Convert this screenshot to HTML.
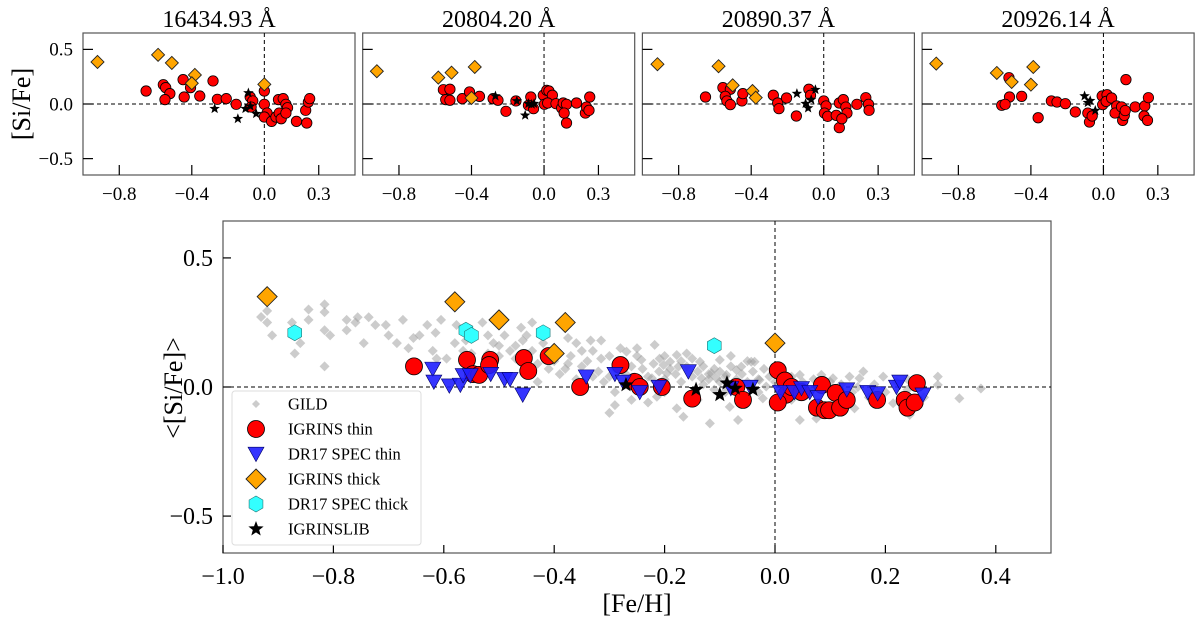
<!DOCTYPE html>
<html><head><meta charset="utf-8">
<style>
html,body{margin:0;padding:0;background:#fff;}
svg{display:block;font-family:"Liberation Serif",serif;}
</style></head>
<body>
<svg id="fig" width="1200" height="624" xmlns="http://www.w3.org/2000/svg"></svg>
<script>
// ---------- data: top panels ----------
const panelTitles = ["16434.93 Å","20804.20 Å","20890.37 Å","20926.14 Å"];
const topXTicks = [-0.8,-0.4,0.0,0.3];
const topYTicks = [0.5,0.0,-0.5];
const p1Thick = [[-0.92,0.385],[-0.586,0.45],[-0.51,0.376],[-0.383,0.266],[-0.40,0.19],[0.0,0.18]];
const p1Thin = [[-0.652,0.119],[-0.557,0.177],[-0.544,0.15],[-0.521,0.095],[-0.548,0.04],[-0.448,0.223],[-0.442,0.064],[-0.407,0.15],[-0.356,0.073],[-0.283,0.211],[-0.259,0.043],[-0.21,0.049],[-0.155,-0.003],[-0.078,0.064],[-0.064,0.028],[-0.073,-0.028],[0.0,0.119],[0.0,-0.003],[0.015,-0.083],[0.0,-0.119],[0.04,-0.159],[0.064,-0.119],[0.078,0.04],[0.082,-0.083],[0.093,-0.135],[0.104,0.049],[0.119,-0.003],[0.128,-0.034],[0.119,-0.083],[0.177,-0.159],[0.228,-0.058],[0.234,-0.174],[0.243,0.018],[0.25,0.049]];
const p1Lib = [[-0.274,-0.043],[-0.146,-0.135],[-0.104,-0.043],[-0.088,0.101],[-0.077,-0.02],[-0.045,-0.089]];
const p2Thick = [[-0.922,0.30],[-0.583,0.242],[-0.51,0.287],[-0.382,0.339],[-0.40,0.055]];
const p2Thin = [[-0.555,0.131],[-0.519,0.135],[-0.542,0.04],[-0.519,0.034],[-0.451,0.049],[-0.411,0.11],[-0.356,0.07],[-0.281,0.049],[-0.254,0.034],[-0.21,-0.067],[-0.155,0.028],[-0.073,0.064],[-0.086,-0.012],[-0.058,-0.043],[-0.004,0.08],[0.015,0.125],[0.027,0.119],[0.046,0.08],[0.002,-0.003],[0.02,0.009],[0.066,0.003],[0.097,-0.037],[0.106,0.009],[0.124,-0.003],[0.111,-0.083],[0.124,-0.174],[0.179,0.009],[0.228,-0.083],[0.234,-0.028],[0.248,-0.058],[0.252,0.064]];
const p2Lib = [[-0.268,0.073],[-0.15,0.028],[-0.104,-0.104],[-0.086,0.003],[-0.068,-0.003],[-0.055,0.003]];
const p3Thick = [[-0.917,0.364],[-0.58,0.346],[-0.502,0.171],[-0.393,0.119],[-0.375,0.058]];
const p3Thin = [[-0.652,0.064],[-0.556,0.15],[-0.515,0.135],[-0.543,0.07],[-0.534,0.028],[-0.515,-0.006],[-0.451,0.028],[-0.446,0.095],[-0.278,0.08],[-0.254,0.009],[-0.247,-0.043],[-0.205,0.055],[-0.151,-0.11],[-0.082,0.135],[-0.073,0.08],[0.0,0.028],[0.013,-0.018],[0.004,-0.083],[0.022,-0.113],[0.069,-0.104],[0.086,-0.217],[0.086,0.009],[0.108,0.04],[0.122,-0.028],[0.128,-0.083],[0.1,-0.135],[0.183,-0.003],[0.232,0.058],[0.247,-0.003],[0.25,-0.058]];
const p3Lib = [[-0.148,0.095],[-0.1,0.003],[-0.086,-0.037],[-0.069,0.04],[-0.046,0.131]];
const p4Thick = [[-0.922,0.37],[-0.588,0.284],[-0.506,0.202],[-0.387,0.339],[-0.40,0.177]];
const p4Thin = [[-0.521,0.241],[-0.518,0.064],[-0.451,0.07],[-0.561,-0.012],[-0.542,-0.003],[-0.36,-0.126],[-0.287,0.028],[-0.256,0.018],[-0.21,0.003],[-0.155,-0.073],[-0.086,-0.083],[-0.077,-0.165],[-0.062,-0.11],[-0.007,0.073],[-0.004,-0.006],[0.02,0.085],[0.015,0.024],[0.045,0.055],[0.073,-0.018],[0.064,-0.083],[0.10,-0.027],[0.106,-0.15],[0.115,-0.104],[0.12,-0.06],[0.124,0.223],[0.175,-0.027],[0.228,-0.018],[0.248,0.058],[0.224,-0.11],[0.243,-0.15]];
const p4Lib = [[-0.104,0.073],[-0.086,0.012],[-0.073,0.03],[-0.045,-0.06]];
const panelThick = [p1Thick,p2Thick,p3Thick,p4Thick];
const panelThin = [p1Thin,p2Thin,p3Thin,p4Thin];
const panelLib = [p1Lib,p2Lib,p3Lib,p4Lib];

// ---------- data: bottom panel ----------
const mainXTicks = [-1.0,-0.8,-0.6,-0.4,-0.2,0.0,0.2,0.4];
const mainYTicks = [0.5,0.0,-0.5];
const igrinsThick = [[-0.92,0.35],[-0.58,0.33],[-0.50,0.26],[-0.38,0.25],[-0.40,0.13],[0.0,0.17]];
const dr17Thick = [[-0.87,0.21],[-0.56,0.22],[-0.55,0.20],[-0.42,0.21],[-0.11,0.16]];
const igrinsThin = [[-0.654,0.08],[-0.558,0.105],[-0.547,0.05],[-0.536,0.047],[-0.516,0.105],[-0.518,0.085],[-0.455,0.112],[-0.447,0.062],[-0.41,0.12],[-0.353,0.0],[-0.28,0.085],[-0.254,0.02],[-0.245,0.0],[-0.205,0.0],[-0.15,-0.045],[-0.07,0.0],[-0.058,-0.05],[0.005,0.065],[0.018,0.025],[0.02,-0.03],[0.005,-0.06],[0.03,0.0],[0.048,-0.02],[0.076,-0.08],[0.085,0.008],[0.09,-0.09],[0.098,-0.09],[0.11,-0.023],[0.118,-0.08],[0.13,-0.05],[0.185,-0.05],[0.235,-0.05],[0.24,-0.08],[0.253,-0.06],[0.257,0.015]];
const dr17Thin = [[-0.62,0.07],[-0.618,0.02],[-0.59,0.005],[-0.57,0.008],[-0.565,0.045],[-0.552,0.045],[-0.515,0.05],[-0.49,0.03],[-0.48,0.03],[-0.457,-0.03],[-0.342,0.04],[-0.29,0.05],[-0.275,0.02],[-0.245,-0.02],[-0.21,0.0],[-0.157,0.06],[-0.08,-0.005],[-0.045,0.0],[0.01,-0.02],[0.035,-0.02],[0.048,-0.005],[0.063,-0.02],[0.078,-0.04],[0.13,-0.01],[0.168,-0.02],[0.186,-0.025],[0.22,0.0],[0.226,0.02],[0.268,-0.03]];
const igrinsLib = [[-0.27,0.008],[-0.143,-0.01],[-0.1,-0.03],[-0.087,0.015],[-0.072,-0.005],[-0.04,-0.01]];
const gild = [[-0.931,0.271],[-0.92,0.295],[-0.92,0.25],[-0.911,0.2],[-0.87,0.13],[-0.86,0.17],[-0.875,0.25],[-0.845,0.30],[-0.845,0.26],[-0.816,0.32],[-0.816,0.29],[-0.816,0.22],[-0.806,0.2],[-0.816,0.08],[-0.776,0.26],[-0.776,0.22],[-0.756,0.27],[-0.745,0.17],[-0.736,0.27],[-0.724,0.24],[-0.705,0.24],[-0.674,0.26],[-0.685,0.17],[-0.664,0.15],[-0.655,0.19],[-0.644,0.2],[-0.615,0.21],[-0.605,0.26],[-0.595,0.11],[-0.613,0.11],[-0.577,0.24],[-0.565,0.14],[-0.56,0.18],[-0.53,0.25],[-0.51,0.17],[-0.50,0.16],[-0.49,0.2],[-0.48,0.14],[-0.46,0.23],[-0.44,0.25],[-0.457,0.18],[-0.47,0.11],[-0.44,0.14],[-0.43,0.02],[-0.41,0.07],[-0.38,0.07],[-0.375,0.19],[-0.36,0.17],[-0.334,0.18],[-0.315,0.18],[-0.315,0.11],[-0.375,0.09],[-0.35,0.08],[-0.33,0.04],[-0.29,0.07],[-0.3,-0.1],[-0.29,-0.07],[-0.29,-0.02],
[-0.218,0.163],[-0.269,0.137],[-0.242,0.105],[-0.209,0.11],[-0.202,0.085],[-0.19,0.098],[-0.178,0.124],[-0.175,0.079],[-0.196,0.053],[-0.223,0.034],[-0.214,-0.038],[-0.178,-0.083],[-0.166,-0.115],[-0.136,0.098],[-0.133,0.034],[-0.115,0.053],[-0.106,0.034],[-0.1,0.105],[-0.088,0.047],[-0.118,-0.141],[-0.067,-0.128],[-0.07,0.066],[-0.061,0.079],[-0.043,0.098],[-0.037,0.098],[-0.028,0.027],[-0.022,-0.044],[-0.016,0.002],[-0.082,-0.077],[-0.052,-0.063],[0.045,-0.128],[0.045,0.047],[0.075,-0.122],[0.084,0.047],[0.105,0.034],[0.135,0.04],[0.144,-0.083],[0.153,0.034],[0.196,0.04],[0.214,-0.063],[0.244,-0.108],[0.295,0.04],[0.295,0.008],[0.334,-0.044],[0.373,-0.006],
[-0.40,0.10],[-0.39,0.05],[-0.37,0.12],[-0.36,0.03],[-0.34,0.10],[-0.33,0.14],[-0.32,0.06],[-0.31,0.02],[-0.30,0.12],[-0.30,0.04],[-0.28,0.10],[-0.27,0.05],[-0.26,0.08],[-0.26,0.01],[-0.25,0.12],[-0.24,0.07],[-0.23,0.04],[-0.22,0.09],[-0.21,0.06],[-0.20,0.03],[-0.20,0.12],[-0.19,0.07],[-0.18,0.05],[-0.17,0.02],[-0.17,0.10],[-0.16,0.08],[-0.15,0.04],[-0.15,0.11],[-0.14,0.06],[-0.13,0.01],[-0.13,0.08],[-0.12,0.05],[-0.12,0.03],[-0.11,0.07],[-0.10,0.02],[-0.10,0.06],[-0.09,0.04],[-0.09,-0.02],[-0.08,0.08],[-0.07,0.03],[-0.06,0.05],[-0.06,-0.03],[-0.05,0.02],[-0.04,0.06],[-0.03,0.03],[-0.02,0.07],[-0.01,0.04],[0.0,0.02],[0.01,0.05],[0.02,0.01],[0.03,0.04],[0.05,0.02],[0.06,-0.01],[0.07,0.03],[0.09,0.0],[0.10,0.02],[0.11,-0.03],[0.12,0.01],[0.14,-0.02],[0.15,0.0],[0.17,-0.04],[0.18,0.01],[0.20,-0.02],[0.22,0.02],[0.24,-0.01],[0.26,0.0],[0.27,-0.04],
[-0.62,0.14],[-0.58,0.17],[-0.55,0.13],[-0.52,0.2],[-0.50,0.12],[-0.47,0.16],[-0.45,0.2],[-0.43,0.09],[-0.42,0.17],[-0.35,0.14],[-0.28,0.15],[-0.25,0.15],[-0.23,-0.06],[-0.16,0.13],[-0.14,-0.05],[-0.08,0.12],[-0.05,0.10],[-0.03,-0.02],[0.03,-0.05],[0.08,-0.06],[0.16,0.06],[0.24,0.03],[-0.70,0.2],[-0.76,0.25],[-0.63,0.24],[-0.52,0.13],[-0.20,-0.02],[-0.11,-0.01],[-0.26,-0.05]];
const legendLabels = ["GILD","IGRINS thin","DR17 SPEC thin","IGRINS thick","DR17 SPEC thick","IGRINSLIB"];

// ---------- drawing ----------
const svg = document.getElementById('fig');
const NS = 'http://www.w3.org/2000/svg';
function el(tag, attrs, parent){
  const e = document.createElementNS(NS, tag);
  for (const k in attrs) e.setAttribute(k, attrs[k]);
  (parent||svg).appendChild(e);
  return e;
}
function fmt(v, d){ const s = Math.abs(v).toFixed(d); return (v < -1e-9 ? '\u2212' : '') + s; }

function marker(g, kind, x, y, s){
  let e;
  if (kind === 'circle') {
    e = el('circle',{cx:x,cy:y,r:s,fill:'#ff0000',stroke:'#000','stroke-width':0.8},g);
  } else if (kind === 'tri') {
    e = el('polygon',{points:`${x-s},${y-s*0.85} ${x+s},${y-s*0.85} ${x},${y+s*0.95}`,fill:'#1f1fff','fill-opacity':0.9,stroke:'#000066','stroke-width':0.6},g);
  } else if (kind === 'diamond') {
    e = el('polygon',{points:`${x},${y-s} ${x+s},${y} ${x},${y+s} ${x-s},${y}`,fill:'#ffa500',stroke:'#222','stroke-width':0.9},g);
  } else if (kind === 'gild') {
    e = el('polygon',{points:`${x},${y-s} ${x+s},${y} ${x},${y+s} ${x-s},${y}`,fill:'#999','fill-opacity':0.5},g);
  } else if (kind === 'hex') {
    let p=[]; for(let i=0;i<6;i++){const a=Math.PI/3*i+Math.PI/6; p.push((x+s*Math.cos(a)).toFixed(2)+','+(y+s*Math.sin(a)).toFixed(2));}
    e = el('polygon',{points:p.join(' '),fill:'#33ffff',stroke:'#227777','stroke-width':0.6},g);
  } else if (kind === 'star') {
    let p=[]; for(let i=0;i<10;i++){const r=i%2?s*0.42:s; const a=-Math.PI/2+Math.PI/5*i; p.push((x+r*Math.cos(a)).toFixed(2)+','+(y+r*Math.sin(a)).toFixed(2));}
    e = el('polygon',{points:p.join(' '),fill:'#000'},g);
  }
  return e;
}

function drawAxes(g, L, T, W, H, xs, ys, xt, yt, dec, tickFont, tickLen, xLabGap){
  el('rect',{x:L,y:T,width:W,height:H,fill:'none',stroke:'#555','stroke-width':1.2},g);
  el('line',{x1:L,x2:L+W,y1:ys(0),y2:ys(0),stroke:'#000','stroke-width':1,'stroke-dasharray':'4,3'},g);
  el('line',{x1:xs(0),x2:xs(0),y1:T,y2:T+H,stroke:'#000','stroke-width':1,'stroke-dasharray':'4,3'},g);
  xt.forEach(v=>{
    const x = xs(v);
    el('line',{x1:x,x2:x,y1:T+H,y2:T+H-tickLen,stroke:'#000','stroke-width':1.2},g);
    const t = el('text',{x:x,y:T+H+xLabGap,'text-anchor':'middle','font-size':tickFont,fill:'#000'},g);
    t.textContent = fmt(v,1);
    
    
  });
  yt.forEach(v=>{
    const y = ys(v);
    el('line',{x1:L,x2:L+tickLen,y1:y,y2:y,stroke:'#000','stroke-width':1.2},g);
    const t = el('text',{x:L-10,y:y+tickFont*0.33,'text-anchor':'end','font-size':tickFont,fill:'#000'},g);
    t.textContent = fmt(v,1);
    
    
  });
}

// top panels
const TL0 = 83, TSTEP = 279.7, TW = 272, TT = 33, TH = 142;
panelTitles.forEach((title, i) => {
  const g = el('g',{});
  
  
  const L = TL0 + i*TSTEP;
  const xs = v => L + (v + 1.0) / 1.5 * TW;
  const ys = v => TT + (0.65 - v) / 1.3 * TH;
  const tt = el('text',{x:L+TW/2,y:27,'text-anchor':'middle','font-size':24,fill:'#000'},g);
  tt.textContent = title;
  
  
  drawAxes(g, L, TT, TW, TH, xs, ys, topXTicks, i===0?topYTicks:[], 1, 19, 10, 25);
  if (i>0) topYTicks.forEach(v=>el('line',{x1:L,x2:L+10,y1:ys(v),y2:ys(v),stroke:'#000','stroke-width':1.2},g));
  panelThin[i].forEach(p=>{ const m=marker(g,'circle',xs(p[0]),ys(p[1]),5.2);
    
     });
  panelThick[i].forEach(p=>{ const m=marker(g,'diamond',xs(p[0]),ys(p[1]),6.5);
    
     });
  panelLib[i].forEach(p=>{ const m=marker(g,'star',xs(p[0]),ys(p[1]),5.5);
    
     });
});
const yl1 = el('text',{x:0,y:0,'text-anchor':'middle','font-size':26,fill:'#000',transform:'translate(30,104) rotate(-90)'});
yl1.textContent = '[Si/Fe]';



// main panel
const ML = 223, MT = 221, MW = 828, MH = 332;
const mx = v => ML + (v + 1.0) / 1.5 * MW;
const my = v => MT + (0.643 - v) / 1.286 * MH;
const gm = el('g',{});


drawAxes(gm, ML, MT, MW, MH, mx, my, mainXTicks, mainYTicks, 1, 24, 8, 31);
gild.forEach(p=>{ const m=marker(gm,'gild',mx(p[0]),my(p[1]),5);
  
   });
igrinsThin.forEach(p=>{ const m=marker(gm,'circle',mx(p[0]),my(p[1]),8.5);
  
   });
dr17Thin.forEach(p=>{ const m=marker(gm,'tri',mx(p[0]),my(p[1]),8);
  
   });
igrinsThick.forEach(p=>{ const m=marker(gm,'diamond',mx(p[0]),my(p[1]),10);
  
   });
dr17Thick.forEach(p=>{ const m=marker(gm,'hex',mx(p[0]),my(p[1]),8);
  
   });
igrinsLib.forEach(p=>{ const m=marker(gm,'star',mx(p[0]),my(p[1]),8);
  
   });

const xl = el('text',{x:637,y:612,'text-anchor':'middle','font-size':26,fill:'#000'});
xl.textContent = '[Fe/H]';


const yl = el('text',{x:0,y:0,'text-anchor':'middle','font-size':26,fill:'#000',transform:'translate(182,388) rotate(-90)'});
yl.textContent = '<[Si/Fe]>';



// legend
const lg = el('g',{});


el('rect',{x:232,y:391,width:189,height:154,rx:3,fill:'#fff','fill-opacity':0.85,stroke:'#ddd','stroke-width':1},lg);
const legKinds = [['gild',4],['circle',8.5],['tri',8],['diamond',10],['hex',8],['star',8]];
legendLabels.forEach((lab,i)=>{
  const y = 404 + i*25;
  const m = marker(lg, legKinds[i][0], 256, y, legKinds[i][1]);
  
  
  const t = el('text',{x:288,y:y+5.5,'font-size':16.5,fill:'#000'},lg);
  t.textContent = lab;
  
  
});
</script>
</body></html>
